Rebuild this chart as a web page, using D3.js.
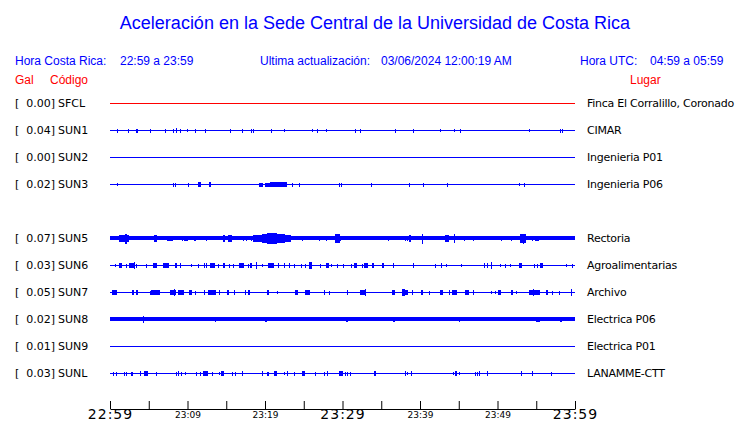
<!DOCTYPE html>
<html>
<head>
<meta charset="utf-8">
<script src="https://cdn.jsdelivr.net/npm/d3@7"></script>
<style>
  body { margin: 0; background: #fff; }
  svg { display: block; }
  rect { shape-rendering: crispEdges; }
</style>
</head>
<body>
<div id="chart"></div>
<script>
/* CONSTANTS AND GLOBALS */
const width = 740;
const height = 423;
const blue = "#0000ff";
const red = "#ff0000";

// DATA ######################################################
// row slots (the blank one is the missing SUN4 station)
const slots = ["SFCL", "SUN1", "SUN2", "SUN3", "", "SUN5", "SUN6", "SUN7", "SUN8", "SUN9", "SUNL"];
const codes = ["SFCL", "SUN1", "SUN2", "SUN3", "SUN5", "SUN6", "SUN7", "SUN8", "SUN9", "SUNL"];
const pga = ["0.00", "0.04", "0.00", "0.02", "0.07", "0.03", "0.05", "0.02", "0.01", "0.03"];
const places = ["Finca El Corralillo, Coronado", "CIMAR", "Ingenieria P01", "Ingenieria P06",
  "Rectoria", "Agroalimentarias", "Archivo", "Electrica P06", "Electrica P01", "LANAMME-CTT"];
// background noise level of each trace (relative units)
const noise = [0, 0, 0, 0, 0.33, 0, 0, 0.33, 0, 0];

// bursts: [minute after 22:59, duration in minutes, relative amplitude]
const sfcl = [];
const sun1 = [[0.94,0,.25],[2.28,.2,.25],[3.39,.25,.25],[5.2,0,.25],[7.14,0,.25],[8.17,0,.25],[8.52,0,.4],
  [9.07,0,.25],[9.97,0,.15],[11.0,0,.25],[12.3,0,.25],[15.5,0,.25],[16.99,.2,.25],[18.15,0,.25],[18.5,0,.25],
  [20.77,.15,.25],[22.5,0,.15],[26.1,0,.15],[26.7,.2,.25],[27.9,0,.15],[31.6,.15,.25],[32.2,0,.25],[36.8,0,.25],
  [39.1,0,.25],[42.6,0,.15],[44.4,0,.15],[45.1,0,.25],[54.0,0,.15],[58.0,0,.25],[58.3,0,.25]];
const sun2 = [];
const sun3 = [[0.86,0,.15],[8.1,0,.25],[8.4,0,.25],[10.1,0,.25],[11.4,.3,.3],[12.8,.2,.3],[19.2,.5,.25],
  [20.0,.6,.25],[20.7,2.2,.28],[21.3,0,.35],[22.2,0,.35],[23.5,0,.25],[24.4,0,.25],[29.5,0,.25],[29.8,.15,.25],
  [33.7,0,.25],[38.6,0,.25],[40.4,.15,.25],[43.5,.15,.25],[52.8,0,.15],[53.4,.15,.25]];
const sun5 = [[1.2,1.2,.45],[1.9,.3,.75],[5.7,.4,.5],[7.3,.8,.4],[9.3,0,.4],[9.6,.4,.35],[10.9,.2,.35],
  [12.4,0,.35],[14.6,.2,.45],[15.2,.5,.45],[17.2,0,.35],[17.6,0,.35],[18.2,0,.4],[18.5,1.1,.45],[19.6,3.0,.7],
  [20.3,.8,.85],[21.2,.3,.8],[22.6,.8,.5],[24.8,0,.35],[27.0,0,.35],[27.9,0,.35],[29.0,.7,.7],[29.7,.1,.35],
  [35.9,0,.35],[38.0,0,.4],[38.3,0,.4],[38.6,.3,.5],[40.2,.2,.75],[43.2,.5,.5],[44.4,0,.6],[45.7,0,.35],
  [46.8,0,.35],[50.5,0,.4],[51.8,0,.35],[52.9,.8,.6],[53.3,.1,.75],[54.5,0,.4],[54.9,.5,.4]];
const sun6 = [[0.65,0,.2],[1.2,.3,.3],[2.0,0,.25],[2.5,.6,.3],[3.1,0,.45],[3.4,0,.25],[4.6,0,.25],[5.6,.4,.35],
  [6.9,.7,.3],[8.4,.2,.4],[9.0,0,.3],[10.4,0,.2],[11.4,0,.25],[12.1,0,.3],[12.4,0,.3],[12.9,.6,.3],[13.9,0,.25],
  [14.6,.3,.3],[15.3,0,.25],[15.9,0,.25],[16.6,.7,.3],[17.8,0,.25],[18.0,.3,.3],[18.8,0,.45],[19.6,0,.2],
  [20.4,.7,.3],[21.7,0,.3],[22.5,0,.3],[23.1,0,.3],[23.7,0,.25],[24.7,0,.25],[25.2,0,.25],[25.7,.3,.45],
  [27.1,0,.25],[27.9,.3,.3],[28.5,0,.15],[29.3,0,.25],[30.1,0,.25],[31.1,0,.25],[31.5,.4,.3],[32.5,0,.25],
  [32.8,.5,.35],[33.8,.3,.3],[35.1,.2,.35],[36.5,.1,.3],[39.1,.1,.3],[41.9,0,.25],[42.7,0,.3],[43.4,0,.15],
  [45.3,0,.15],[48.2,0,.3],[48.6,.2,.3],[49.2,0,.45],[50.3,0,.15],[51.0,0,.25],[51.6,0,.15],[52.8,.4,.3],
  [54.7,0,.25],[55.1,0,.25],[55.5,.4,.3],[58.8,0,.15],[59.6,0,.25]];
const sun7 = [[0.2,.7,.35],[2.9,.2,.3],[3.4,.2,.3],[5.1,0,.25],[5.3,1.2,.3],[7.8,.7,.3],[8.2,0,.45],[8.8,.8,.3],
  [9.3,0,.4],[10.2,.4,.3],[10.97,0,.25],[12.1,0,.3],[12.7,1.0,.3],[13.2,0,.4],[14.1,0,.3],[15.1,.3,.3],
  [16.0,.1,.3],[17.4,.2,.3],[17.8,.3,.3],[20.3,.2,.3],[21.6,0,.2],[23.9,.3,.3],[25.2,.6,.3],[27.6,0,.3],
  [28.2,0,.25],[30.6,0,.3],[32.3,.7,.3],[32.9,0,.45],[36.4,.4,.3],[37.7,.3,.45],[38.0,.4,.3],[38.97,0,.3],
  [40.1,.3,.3],[41.1,0,.25],[42.6,.4,.3],[43.8,0,.3],[44.1,.7,.3],[45.8,.5,.3],[46.9,0,.3],[49.2,0,.15],
  [49.7,0,.15],[50.1,.4,.3],[51.7,.3,.3],[52.4,0,.15],[54.1,1.4,.3],[54.6,.1,.5],[56.2,.3,.3],[57.0,0,.25],
  [57.9,0,.25],[59.5,0,.5]];
const sun8 = [[4.3,0,.42],[13.5,0,.4],[20.0,.3,.4],[30.5,.2,.4],[36.5,.3,.4],[45.0,.2,.4],[55.0,.5,.4],[58.0,.3,.4]];
const sun9 = [];
const sunl = [[0.43,0,.25],[0.77,0,.25],[1.8,0,.25],[2.06,0,.25],[2.7,0,.25],[2.9,0,.25],[3.9,0,.4],[4.4,.5,.3],
  [5.9,0,.25],[8.5,0,.25],[8.8,0,.3],[9.2,0,.25],[9.7,0,.15],[11.1,0,.25],[11.6,0,.25],[12.0,.6,.3],[13.1,0,.25],
  [14.0,0,.2],[14.3,.4,.3],[15.7,0,.25],[16.1,0,.25],[17.0,0,.3],[19.6,0,.3],[20.2,0,.25],[20.4,0,.25],
  [21.1,.5,.3],[22.4,0,.15],[22.9,0,.3],[23.7,0,.25],[24.8,.3,.3],[26.5,0,.25],[27.6,0,.25],[28.0,0,.3],
  [29.5,.5,.3],[29.7,.4,.25],[30.3,0,.25],[30.6,0,.25],[31.0,0,.25],[34.0,.3,.3],[38.0,0,.3],[38.3,0,.15],
  [38.9,0,.4],[44.2,0,.15],[44.5,.3,.3],[45.0,0,.15],[47.1,0,.25],[47.4,0,.25],[47.6,0,.3],[48.6,.15,.3],
  [53.0,0,.3],[54.5,0,.3],[56.9,0,.25]];
const traces = [sfcl, sun1, sun2, sun3, sun5, sun6, sun7, sun8, sun9, sunl];

// axis ticks every 5 minutes, labels every 10
const tickMinutes = d3.range(0, 61, 5);
const tickLabels = ["22:59", "23:09", "23:19", "23:29", "23:39", "23:49", "23:59"];

// SCALES ####################################################
const xScale = d3.scaleLinear().domain([0, 60]).range([110, 575]);
const yScale = d3.scalePoint().domain(slots).range([103, 373]);
const ampScale = d3.scaleLinear().domain([0, 1]).range([0, 6]);

// SVG #######################################################
const svg = d3.select("#chart")
  .append("svg")
  .attr("width", width)
  .attr("height", height);

// title
svg.append("text")
  .attr("x", 375)
  .attr("y", 29)
  .attr("text-anchor", "middle")
  .style("font-family", "Liberation Sans, Arial, sans-serif")
  .style("font-size", "18px")
  .attr("fill", blue)
  .text("Aceleración en la Sede Central de la Universidad de Costa Rica");

// header line
const header = svg.append("g")
  .style("font-family", "Liberation Sans, Arial, sans-serif")
  .style("font-size", "12px")
  .style("white-space", "pre")
  .attr("fill", blue);
header.append("text").attr("x", 15).attr("y", 65).text("Hora Costa Rica:");
header.append("text").attr("x", 120).attr("y", 65).text("22:59 a 23:59");
header.append("text").attr("x", 260).attr("y", 65).text("Ultima actualización:");
header.append("text").attr("x", 381).attr("y", 65).text("03/06/2024 12:00:19 AM");
header.append("text").attr("x", 580).attr("y", 65).text("Hora UTC:");
header.append("text").attr("x", 650).attr("y", 65).text("04:59 a 05:59");

const sub = svg.append("g")
  .style("font-family", "Liberation Sans, Arial, sans-serif")
  .style("font-size", "12px")
  .attr("fill", red);
sub.append("text").attr("x", 15).attr("y", 84).text("Gal");
sub.append("text").attr("x", 50).attr("y", 84).text("Código");
sub.append("text").attr("x", 630).attr("y", 84).text("Lugar");

// station rows
const rows = svg.selectAll(".row")
  .data(codes.map((c, i) => ({ code: c, pga: pga[i], place: places[i], noise: noise[i], bursts: traces[i] })))
  .join("g")
  .attr("class", "row")
  .attr("transform", d => `translate(0, ${yScale(d.code)})`);

const labelFont = "DejaVu Sans, sans-serif";

rows.append("text")
  .attr("x", 15).attr("y", 4)
  .style("font-family", labelFont).style("font-size", "11px")
  .text("[");
rows.append("text")
  .attr("x", 55).attr("y", 4)
  .attr("text-anchor", "end")
  .style("font-family", labelFont).style("font-size", "11px")
  .text(d => d.pga + "]");
rows.append("text")
  .attr("x", 58).attr("y", 4)
  .style("font-family", labelFont).style("font-size", "11px")
  .text(d => d.code);
rows.append("text")
  .attr("x", 587).attr("y", 4)
  .style("font-family", labelFont).style("font-size", "11px")
  .style("letter-spacing", "-0.25px")
  .text(d => d.place);

// baselines
rows.append("rect")
  .attr("x", xScale(0))
  .attr("width", xScale(60) - xScale(0))
  .attr("y", d => d.noise ? -Math.round(ampScale(d.noise)) : 0)
  .attr("height", d => d.noise ? 2 * Math.round(ampScale(d.noise)) : 1)
  .attr("fill", d => d.code === "SFCL" ? red : blue);

// bursts
rows.selectAll(".burst")
  .data(d => d.bursts)
  .join("rect")
  .attr("class", "burst")
  .attr("x", d => xScale(d[0]))
  .attr("width", d => Math.max(1, xScale(d[0] + d[1]) - xScale(d[0])))
  .attr("y", d => -ampScale(d[2]))
  .attr("height", d => 2 * ampScale(d[2]) + 1)
  .attr("fill", blue);

// time axis
const xAxisGroup = svg.append("g")
  .attr("transform", "translate(0, 409)")
  .call(d3.axisBottom(xScale)
    .tickValues(tickMinutes)
    .tickSizeInner(-8)
    .tickSizeOuter(0)
    .tickPadding(3)
    .tickFormat(m => m % 10 === 0 ? tickLabels[m / 10] : ""));

xAxisGroup.select(".domain").attr("stroke", "#000");
xAxisGroup.selectAll(".tick line").attr("stroke", "#000");
xAxisGroup.selectAll(".tick text")
  .attr("fill", "#000")
  .style("font-family", labelFont)
  .style("font-size", m => m % 30 === 0 ? "14px" : "9px")
  .style("letter-spacing", m => m % 30 === 0 ? "1px" : "0px")
  .attr("dy", m => m % 30 === 0 ? "0.72em" : "0.75em")
  .attr("y", m => m % 30 === 0 ? 0 : 2);
</script>
</body>
</html>
